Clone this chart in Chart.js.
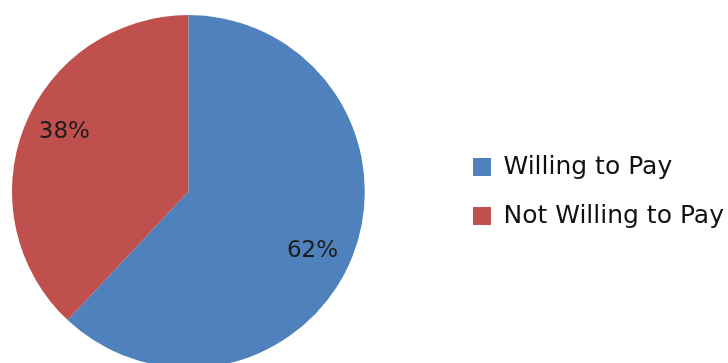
<!DOCTYPE html>
<html>
<head>
<meta charset="utf-8">
<script src="https://cdn.jsdelivr.net/npm/chart.js@4"></script>
<style>
  html, body { margin: 0; padding: 0; background: #fff; overflow: hidden; }
</style>
</head>
<body>
<canvas id="piechart" width="728" height="384"></canvas>
<script>
var categories = ['Willing to Pay', 'Not Willing to Pay'];
var shares = [62, 38];
var sliceColors = ['#4F81BD', '#C0504D'];

// draws the % text inside each slice
var sliceLabels = {
    id: 'sliceLabels',
    afterDatasetsDraw: function (chart) {
        var ctx = chart.ctx;
        var meta = chart.getDatasetMeta(0);
        ctx.save();
        ctx.font = '23px "DejaVu Sans"';
        ctx.fillStyle = '#1c1c1c';
        ctx.textAlign = 'center';
        ctx.textBaseline = 'middle';
        meta.data.forEach(function (arc, i) {
            var p = arc.getProps(['x', 'y', 'startAngle', 'endAngle', 'outerRadius'], true);
            var mid = (p.startAngle + p.endAngle) / 2 + 4 * Math.PI / 180;
            var r = p.outerRadius * 0.78;
            ctx.fillText(shares[i] + '%', p.x + Math.cos(mid) * r, p.y + Math.sin(mid) * r);
        });
        ctx.restore();
    }
};

var ctx = document.getElementById('piechart').getContext('2d');
var myChart = new Chart(ctx, {
    type: 'pie',
    data: {
        labels: categories,
        datasets: [{
            data: shares,
            backgroundColor: sliceColors,
            borderWidth: 0
        }]
    },
    options: {
        responsive: false,
        animation: false,
        layout: {
            padding: { left: 12, right: 0, top: 15, bottom: 16 }
        },
        plugins: {
            // empty subtitle used as a gap between pie and legend
            subtitle: {
                display: true,
                text: ' ',
                position: 'right',
                weight: 500,
                font: { size: 1 },
                padding: { top: 83, bottom: 0 }
            },
            legend: {
                position: 'right',
                align: 'center',
                maxWidth: 279,
                labels: {
                    boxWidth: 18,
                    boxHeight: 18,
                    padding: 24,
                    color: '#111',
                    font: { family: 'DejaVu Sans', size: 25 }
                }
            },
            tooltip: { enabled: false }
        }
    },
    plugins: [sliceLabels]
});
</script>
</body>
</html>
